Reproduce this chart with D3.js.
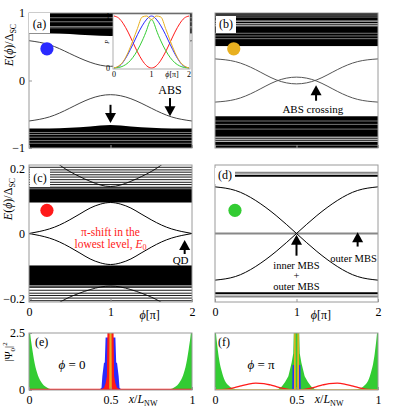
<!DOCTYPE html>
<html>
<head>
<script src="https://cdn.jsdelivr.net/npm/d3@7"></script>
<style>
  body { margin: 0; background: #fff; }
  svg text { font-family: "Liberation Serif", "DejaVu Serif", serif; }
  .tick line { stroke: #999; }
  .tick text { font-size: 12px; font-family: "Liberation Serif", serif; }
</style>
</head>
<body>
<svg id="fig" width="399" height="410"></svg>
<script>
// ---- data ----
var phiCoarse = [0, 0.25, 0.5, 0.75, 1, 1.25, 1.5, 1.75, 2];
var phiFine = [0, 0.125, 0.25, 0.375, 0.5, 0.625, 0.75, 0.875, 1, 1.125, 1.25, 1.375, 1.5, 1.625, 1.75, 1.875, 2];

// (a) Andreev bound states, E/Δsc
var absAUp = [0.59, 0.53, 0.40, 0.27, 0.21, 0.27, 0.40, 0.53, 0.59];
var absADown = [-0.60, -0.54, -0.41, -0.27, -0.21, -0.27, -0.41, -0.54, -0.60];
var bandATopEdge = [0.70, 0.70, 0.69, 0.67, 0.66, 0.67, 0.69, 0.70, 0.70];
var bandABotEdge = [-0.71, -0.71, -0.70, -0.68, -0.66, -0.68, -0.70, -0.71, -0.71];
var streaksATop = [0.78, 0.80, 0.87, 0.93];
var streaksABot = [-0.77, -0.80, -0.84, -0.89, -0.93];

// inset of (a)
var insetRed = [1, 0.96, 0.85, 0.69, 0.5, 0.31, 0.15, 0.04, 0, 0.04, 0.15, 0.31, 0.5, 0.69, 0.85, 0.96, 1];
var insetBlue = [0, 0.03, 0.12, 0.27, 0.45, 0.64, 0.81, 0.94, 1, 0.94, 0.81, 0.64, 0.45, 0.27, 0.12, 0.03, 0];
var insetGreen = [0, 0.01, 0.04, 0.1, 0.2, 0.34, 0.52, 0.74, 0.93, 0.74, 0.52, 0.34, 0.2, 0.1, 0.04, 0.01, 0];
var insetOrange = [0, 0.04, 0.13, 0.3, 0.52, 0.76, 0.98, 1, 0.93, 1, 0.98, 0.76, 0.52, 0.3, 0.13, 0.04, 0];

// (b)
var absB1 = [0.32, 0.28, 0.16, 0.01, -0.05, 0.01, 0.16, 0.28, 0.32];
var absB2 = [-0.32, -0.28, -0.16, -0.01, 0.05, -0.01, -0.16, -0.28, -0.32];
var bandBTop = [0.51, 1.05];
var bandBBot = [-1.05, -0.53];
var streaksBTopWhite = [0.81, 0.84, 0.88];
var streaksBTopGray = [0.62, 0.66, 0.70, 0.94, 0.97];
var streaksBBotWhite = [-0.84, -0.87, -0.90];
var streaksBBotGray = [-0.60, -0.65, -0.72, -0.96];

// (c) quantum dot
var absCUp = [0, 0.006, 0.014, 0.026, 0.042, 0.06, 0.078, 0.09, 0.095, 0.09, 0.078, 0.06, 0.042, 0.026, 0.014, 0.006, 0];
var absCDown = [0, -0.006, -0.014, -0.026, -0.042, -0.06, -0.078, -0.09, -0.095, -0.09, -0.078, -0.06, -0.042, -0.026, -0.014, -0.006, 0];
var bandCTop = [0.095, 0.136];
var bandCBot = [-0.159, -0.098];
var linesCTop = [0.142, 0.15, 0.157, 0.165, 0.173, 0.18, 0.188, 0.195, 0.203];
var linesCBot = [-0.165, -0.174, -0.183, -0.19, -0.198, -0.206];
var vPhiTop = [0.35, 0.5, 0.75, 1, 1.25, 1.5, 1.65];
var vCTop = [0.215, 0.19, 0.16, 0.144, 0.16, 0.19, 0.215];
var vPhiBot = [0.35, 0.5, 0.75, 1, 1.25, 1.5, 1.65];
var vCBot = [-0.215, -0.195, -0.172, -0.161, -0.172, -0.195, -0.215];

// (d) Majorana
var dX1 = [0.143, 0.132, 0.101, 0.055, 0, -0.055, -0.101, -0.132, -0.143];
var dX2 = [-0.143, -0.132, -0.101, -0.055, 0, 0.055, 0.101, 0.132, 0.143];
var dLevelsBlack = [0.177, -0.183];
var dLevelsGray = [0.186, 0, -0.193];

// (e), (f) wavefunctions |Psi0|^2
var edgeX = [0, 0.01, 0.02, 0.03, 0.04, 0.05, 0.06, 0.08, 0.10, 0.12, 0.15, 0.2];
var greenEdgeE = [3, 2.3, 1.8, 1.35, 1.0, 0.75, 0.55, 0.3, 0.15, 0.07, 0.02, 0];
var greenEdgeF = [3, 2.2, 1.6, 1.15, 0.85, 0.6, 0.42, 0.22, 0.1, 0.04, 0.01, 0];

var blueEX = [0.43, 0.445, 0.45, 0.46, 0.465, 0.47, 0.475, 0.525, 0.53, 0.535, 0.54, 0.55, 0.555, 0.57];
var blueEY = [0, 0.1, 0.6, 1.2, 1.2, 2.3, 2.3, 2.3, 2.3, 1.2, 1.2, 0.6, 0.1, 0];
var redEX = [0, 0.44, 0.46, 0.47, 0.478, 0.482, 0.518, 0.522, 0.53, 0.54, 0.56, 1];
var redEY = [0, 0, 0.1, 0.3, 0.6, 3, 3, 0.6, 0.3, 0.1, 0, 0];
var greenECX = [0.46, 0.48, 0.49, 0.5, 0.51, 0.52, 0.54];
var greenECY = [0, 0.1, 0.3, 0.1, 0.3, 0.1, 0];
var orangeEX = [0, 0.492, 0.494, 0.506, 0.508, 1];
var orangeEY = [0, 0, 3, 3, 0, 0];

var greenFCX = [0.38, 0.41, 0.43, 0.45, 0.46, 0.47, 0.48, 0.485, 0.515, 0.52, 0.53, 0.54, 0.55, 0.57, 0.59, 0.62];
var greenFCY = [0, 0.15, 0.35, 0.6, 0.9, 1.2, 1.6, 3, 3, 1.6, 1.2, 0.9, 0.6, 0.35, 0.15, 0];
var blueFX = [0.474, 0.476, 0.484, 0.486, 0.514, 0.516, 0.524, 0.526];
var blueFY = [0, 1.1, 1.1, 0, 0, 1.1, 1.1, 0];
var redFX = [0, 0.04, 0.08, 0.12, 0.16, 0.2, 0.25, 0.3, 0.34, 0.38, 0.42, 0.46, 0.5, 0.54, 0.58, 0.62, 0.66, 0.7, 0.75, 0.8, 0.84, 0.88, 0.92, 0.96, 1];
var redFY = [0, 0.01, 0.04, 0.1, 0.18, 0.25, 0.3, 0.28, 0.22, 0.14, 0.07, 0.02, 0, 0.02, 0.07, 0.14, 0.22, 0.28, 0.3, 0.25, 0.18, 0.1, 0.04, 0.01, 0];
var orangeFX = [0, 0.488, 0.49, 0.492, 0.508, 0.51, 0.512, 1];
var orangeFY = [0, 0, 3, 0, 0, 3, 0, 0];

// colours
var RED = '#ff1a1a', BLUE = '#2a2aff', GREEN = '#33cc33', ORANGE = '#e8b020';

// ---- scales ----
var xA = d3.scaleLinear().domain([0, 2]).range([29, 192]);
var xB = d3.scaleLinear().domain([0, 2]).range([215, 378]);
var yAB = d3.scaleLinear().domain([-1, 1]).range([148, 13]);
var yCD = d3.scaleLinear().domain([-0.21, 0.21]).range([302, 165]);
var xE = d3.scaleLinear().domain([0, 1]).range([29, 192]);
var xF = d3.scaleLinear().domain([0, 1]).range([215, 378]);
var xERev = d3.scaleLinear().domain([0, 1]).range([192, 29]);
var xFRev = d3.scaleLinear().domain([0, 1]).range([378, 215]);
var yEF = d3.scaleLinear().domain([0, 2.5]).range([390, 333]);
var xIn = d3.scaleLinear().domain([0, 2]).range([114, 189]);
var yIn = d3.scaleLinear().domain([0, 1]).range([68, 16]);

var svg = d3.select('#fig');
var defs = svg.append('defs');

function panel(id, x, y) {
  var x0 = Math.min.apply(null, x.range()), x1 = Math.max.apply(null, x.range());
  defs.append('clipPath').attr('id', id).append('rect')
    .attr('x', x0).attr('y', y.range()[1])
    .attr('width', x1 - x0).attr('height', y.range()[0] - y.range()[1]);
  return svg.append('g').attr('clip-path', 'url(#' + id + ')');
}

function curve(g, xs, ys, x, y, color, width, kind) {
  var line = d3.line()
    .x(function (d, i) { return x(xs[i]); })
    .y(function (d) { return y(d); })
    .curve(kind || d3.curveNatural);
  g.append('path').datum(ys).attr('d', line)
    .attr('fill', 'none').attr('stroke', color).attr('stroke-width', width);
}

function fillArea(g, xs, ys, x, y, color, kind) {
  var area = d3.area()
    .x(function (d, i) { return x(xs[i]); })
    .y0(y(0))
    .y1(function (d) { return y(d); })
    .curve(kind || d3.curveLinear);
  g.append('path').datum(ys).attr('d', area).attr('fill', color);
}

function bandRect(g, lohi, x, y, color) {
  g.append('rect').attr('x', x.range()[0]).attr('width', x.range()[1] - x.range()[0])
    .attr('y', y(lohi[1])).attr('height', y(lohi[0]) - y(lohi[1])).attr('fill', color);
}

function levels(g, vals, x, y, color, width) {
  g.selectAll(null).data(vals).enter().append('line')
    .attr('x1', x.range()[0]).attr('x2', x.range()[1])
    .attr('y1', function (d) { return y(d); }).attr('y2', function (d) { return y(d); })
    .attr('stroke', color).attr('stroke-width', width);
}

function bandEdge(g, xs, edge, limit, x, y) {
  var area = d3.area()
    .x(function (d, i) { return x(xs[i]); })
    .y0(y(limit))
    .y1(function (d) { return y(d); })
    .curve(d3.curveNatural);
  g.append('path').datum(edge).attr('d', area).attr('fill', '#000');
}

function arrow(x, yTail, yTip) {
  var dir = yTip > yTail ? 1 : -1;
  svg.append('line').attr('x1', x).attr('x2', x).attr('y1', yTail).attr('y2', yTip - dir * 8)
    .attr('stroke', '#000').attr('stroke-width', 2);
  svg.append('path')
    .attr('d', 'M' + (x - 5.5) + ',' + (yTip - dir * 10) + 'L' + (x + 5.5) + ',' + (yTip - dir * 10) + 'L' + x + ',' + yTip + 'Z')
    .attr('fill', '#000');
}

function label(x, y, txt, size, anchor, color) {
  return svg.append('text').attr('x', x).attr('y', y).attr('font-size', size)
    .attr('text-anchor', anchor || 'middle').attr('fill', color || '#000').text(txt);
}

function tagBox(x, y, w, h, txt) {
  svg.append('rect').attr('x', x).attr('y', y).attr('width', w).attr('height', h).attr('fill', '#fff');
  label(x + w / 2, y + h - 5, txt, 12);
}

function frame(x, y) {
  var x0 = Math.min.apply(null, x.range()), x1 = Math.max.apply(null, x.range());
  svg.append('rect').attr('x', x0).attr('y', y.range()[1])
    .attr('width', x1 - x0).attr('height', y.range()[0] - y.range()[1])
    .attr('fill', 'none').attr('stroke', '#9a9a9a').attr('stroke-width', 1);
}

function axes(x, y, yTicks, xTicks, yFmt, xFmt) {
  var gy = svg.append('g').attr('transform', 'translate(' + x.range()[0] + ',0)')
    .call(d3.axisLeft(y).tickValues(yTicks || []).tickSize(-3).tickPadding(4)
      .tickFormat(yFmt || d3.format('')));
  gy.select('.domain').remove();
  if (!yTicks) gy.selectAll('text').remove();
  var gx = svg.append('g').attr('transform', 'translate(0,' + y.range()[0] + ')')
    .call(d3.axisBottom(x).tickValues(xTicks || x.domain().concat([(x.domain()[0] + x.domain()[1]) / 2]))
      .tickSize(-3).tickPadding(5).tickFormat(xFmt || d3.format('')));
  gx.select('.domain').remove();
  if (!xTicks) gx.selectAll('text').remove();
}

function ylabelE(cx, cy) {
  var t = svg.append('text').attr('transform', 'translate(' + cx + ',' + cy + ') rotate(-90)')
    .attr('text-anchor', 'middle').attr('font-size', 12);
  t.append('tspan').attr('font-style', 'italic').text('E');
  t.append('tspan').text('(');
  t.append('tspan').attr('font-style', 'italic').text('ϕ');
  t.append('tspan').text(')/Δ');
  t.append('tspan').attr('font-size', 8).attr('dy', 3).text('SC');
}

function phiLabel(cx, cy) {
  var t = svg.append('text').attr('x', cx).attr('y', cy).attr('text-anchor', 'middle').attr('font-size', 12);
  t.append('tspan').attr('font-style', 'italic').text('ϕ');
  t.append('tspan').text('[π]');
}

function xlLabel(cx, cy) {
  var t = svg.append('text').attr('x', cx).attr('y', cy).attr('text-anchor', 'middle').attr('font-size', 12);
  t.append('tspan').attr('font-style', 'italic').text('x');
  t.append('tspan').text('/');
  t.append('tspan').attr('font-style', 'italic').text('L');
  t.append('tspan').attr('font-size', 8).attr('dy', 3).text('NW');
}

function dot(x, y, color) {
  svg.append('circle').attr('cx', x).attr('cy', y).attr('r', 6.6).attr('fill', color);
}

// ---- (a) ----
var gA = panel('clipA', xA, yAB);
bandRect(gA, [0.7, 1.05], xA, yAB, '#000');
bandEdge(gA, phiCoarse, bandABotEdge, -1.05, xA, yAB);
bandEdge(gA, phiCoarse, bandATopEdge, 1.05, xA, yAB);
levels(gA, streaksATop, xA, yAB, '#999', 0.8);
levels(gA, streaksABot, xA, yAB, '#999', 0.8);
curve(gA, phiCoarse, absAUp, xA, yAB, '#444', 1);
curve(gA, phiCoarse, absADown, xA, yAB, '#444', 1);
frame(xA, yAB);
axes(xA, yAB, [-1, 0, 1], null, d3.format(''));

// inset
svg.append('rect').attr('x', 113).attr('y', 14).attr('width', 77).attr('height', 55).attr('fill', '#fff');
var gIn = svg.append('g');
curve(gIn, phiFine, insetRed, xIn, yIn, RED, 1);
curve(gIn, phiFine, insetBlue, xIn, yIn, BLUE, 1);
curve(gIn, phiFine, insetGreen, xIn, yIn, GREEN, 1);
curve(gIn, phiFine, insetOrange, xIn, yIn, ORANGE, 1, d3.curveMonotoneX);
svg.append('rect').attr('x', 113).attr('y', 14).attr('width', 77).attr('height', 55)
  .attr('fill', 'none').attr('stroke', '#999').attr('stroke-width', 0.8);
[0, 1, 2].forEach(function (v) { label(xIn(v), 77, v, 8); });
label(110, yIn(0) + 3, '0', 8, 'end');
label(110, yIn(1) + 3, '1', 8, 'end');
svg.append('text').attr('x', 172).attr('y', 77).attr('font-size', 8).attr('text-anchor', 'middle')
  .html('<tspan font-style="italic">ϕ</tspan>[π]');
svg.append('text').attr('transform', 'translate(109,42) rotate(-90)').attr('font-size', 6)
  .attr('text-anchor', 'middle').attr('font-style', 'italic').text('P');

tagBox(29, 13, 21, 20, '(a)');
dot(xA(0.22), yAB(0.47), BLUE);
label(xA(1.73), yAB(-0.2), 'ABS', 12);
arrow(xA(1.73), yAB(-0.26), yAB(-0.53));
arrow(xA(1), yAB(-0.36), yAB(-0.63));
ylabelE(13, 45);

// ---- (b) ----
var gB = panel('clipB', xB, yAB);
bandRect(gB, bandBTop, xB, yAB, '#000');
bandRect(gB, bandBBot, xB, yAB, '#000');
levels(gB, streaksBTopGray, xB, yAB, '#777', 1);
levels(gB, streaksBBotGray, xB, yAB, '#777', 1);
levels(gB, streaksBTopWhite, xB, yAB, '#eee', 1);
levels(gB, streaksBBotWhite, xB, yAB, '#eee', 1);
curve(gB, phiCoarse, absB1, xB, yAB, '#555', 1);
curve(gB, phiCoarse, absB2, xB, yAB, '#555', 1);
frame(xB, yAB);
axes(xB, yAB, null, null);
tagBox(216, 16, 20, 17, '(b)');
dot(xB(0.23), yAB(0.47), ORANGE);
arrow(xB(1.24), yAB(-0.30), yAB(-0.07));
label(xB(1.2), yAB(-0.48), 'ABS crossing', 11);

// ---- (c) ----
var gC = panel('clipC', xA, yCD);
bandRect(gC, bandCTop, xA, yCD, '#000');
bandRect(gC, bandCBot, xA, yCD, '#000');
levels(gC, [0.138, 0.14], xA, yCD, '#666', 1.2);
levels(gC, [-0.161, -0.163], xA, yCD, '#666', 1.2);
levels(gC, linesCTop, xA, yCD, '#000', 0.9);
levels(gC, linesCBot, xA, yCD, '#000', 0.9);
curve(gC, vPhiTop, vCTop, xA, yCD, '#000', 0.9);
curve(gC, vPhiBot, vCBot, xA, yCD, '#000', 0.9);
curve(gC, phiFine, absCUp, xA, yCD, '#000', 1);
curve(gC, phiFine, absCDown, xA, yCD, '#000', 1);
frame(xA, yCD);
axes(xA, yCD, [-0.2, 0, 0.2], [0, 1, 2], d3.format(''), d3.format(''));
phiLabel(xA(1.48), 319);
tagBox(30, 168, 20, 19, '(c)');
dot(xA(0.22), yCD(0.071), RED);
label(xA(1), 236, 'π-shift in the', 11.5, 'middle', RED);
var lt = svg.append('text').attr('x', xA(1.0)).attr('y', 248).attr('font-size', 11.5)
  .attr('text-anchor', 'middle').attr('fill', RED);
lt.append('tspan').text('lowest level, ');
lt.append('tspan').attr('font-style', 'italic').text('E');
lt.append('tspan').attr('font-size', 8).attr('dy', 2).text('0');
arrow(xA(1.91), 254, yCD(-0.02));
label(xA(1.86), 264, 'QD', 11);
ylabelE(12, 199);

// ---- (d) ----
var gD = panel('clipD', xB, yCD);
levels(gD, dLevelsGray, xB, yCD, '#888', 2);
levels(gD, dLevelsBlack, xB, yCD, '#000', 2);
curve(gD, phiCoarse, dX1, xB, yCD, '#000', 1);
curve(gD, phiCoarse, dX2, xB, yCD, '#000', 1);
frame(xB, yCD);
axes(xB, yCD, null, [0, 1, 2], null, d3.format(''));
phiLabel(xB(1.3), 319);
tagBox(215, 168, 20, 16, '(d)');
dot(xB(0.245), yCD(0.071), GREEN);
arrow(xB(1), yCD(-0.068), yCD(-0.004));
label(xB(1), 269, 'inner MBS', 10.5);
label(xB(1), 279, '+', 10.5);
label(xB(1), 290, 'outer MBS', 10.5);
arrow(xB(1.75), yCD(-0.04), yCD(0.004));
label(xB(1.7), 262, 'outer MBS', 10.5);

// ---- (e) ----
var gE = panel('clipE', xE, yEF);
fillArea(gE, edgeX, greenEdgeE, xE, yEF, GREEN, d3.curveMonotoneX);
fillArea(gE, edgeX, greenEdgeE, xERev, yEF, GREEN, d3.curveMonotoneX);
fillArea(gE, blueEX, blueEY, xE, yEF, BLUE);
fillArea(gE, greenECX, greenECY, xE, yEF, GREEN);
fillArea(gE, redEX, redEY, xE, yEF, RED);
fillArea(gE, orangeEX, orangeEY, xE, yEF, ORANGE);
curve(gE, [0, 1], [0.01, 0.01], xE, yEF, RED, 2, d3.curveLinear);
frame(xE, yEF);
axes(xE, yEF, [0, 2.5], [0, 0.5, 1], d3.format(''), d3.format(''));
xlLabel(xE(0.7), 403);
label(35, 346, '(e)', 12, 'start');
var pe = svg.append('text').attr('x', 72).attr('y', 369).attr('font-size', 13).attr('text-anchor', 'middle');
pe.append('tspan').attr('font-style', 'italic').text('ϕ');
pe.append('tspan').text(' = 0');
var yl = svg.append('text').attr('transform', 'translate(12,352) rotate(-90)')
  .attr('text-anchor', 'middle').attr('font-size', 11);
yl.append('tspan').text('|Ψ');
yl.append('tspan').attr('font-size', 7).attr('dy', 3).text('0');
yl.append('tspan').attr('dy', -3).text('|');
yl.append('tspan').attr('font-size', 7).attr('dy', -5).text('2');

// ---- (f) ----
var gF = panel('clipF', xF, yEF);
fillArea(gF, edgeX, greenEdgeF, xF, yEF, GREEN, d3.curveMonotoneX);
fillArea(gF, edgeX, greenEdgeF, xFRev, yEF, GREEN, d3.curveMonotoneX);
fillArea(gF, greenFCX, greenFCY, xF, yEF, GREEN);
fillArea(gF, blueFX, blueFY, xF, yEF, BLUE);
curve(gF, redFX, redFY, xF, yEF, RED, 1.3, d3.curveMonotoneX);
curve(gF, orangeFX, orangeFY, xF, yEF, ORANGE, 1.3, d3.curveLinear);
frame(xF, yEF);
axes(xF, yEF, null, [0, 0.5, 1], null, d3.format(''));
xlLabel(xF(0.7), 403);
label(218, 346, '(f)', 12, 'start');
var pf = svg.append('text').attr('x', 261).attr('y', 369).attr('font-size', 13).attr('text-anchor', 'middle');
pf.append('tspan').attr('font-style', 'italic').text('ϕ');
pf.append('tspan').text(' = π');
</script>
</body>
</html>
